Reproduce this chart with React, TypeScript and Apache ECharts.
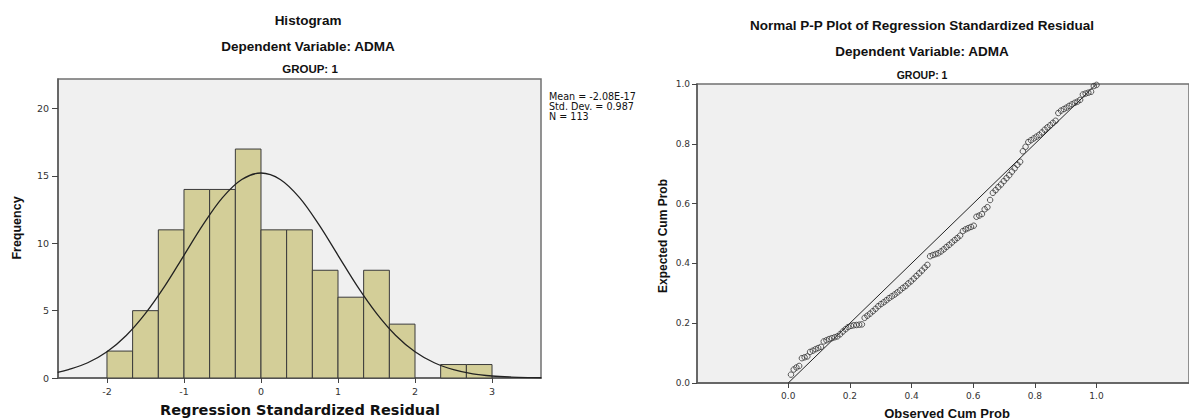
import React, { useEffect, useRef } from "react";
import * as echarts from "echarts";

// ---------- Histogram data ----------
const binEdges = [-2, -1.667, -1.333, -1, -0.667, -0.333, 0, 0.333, 0.667, 1, 1.333, 1.667, 2, 2.333, 2.667, 3];
const binCounts = [2, 5, 11, 14, 14, 17, 11, 11, 8, 6, 8, 4, 0, 1, 1];
const histXTicks = [-2, -1, 0, 1, 2, 3];
// normal curve
const curveX = [-2.64, -2.5, -2.25, -2, -1.75, -1.5, -1.25, -1, -0.75, -0.5, -0.25, 0, 0.25, 0.5, 0.75, 1, 1.25, 1.5, 1.75, 2, 2.25, 2.5, 2.75, 3, 3.25, 3.5, 3.64];
const curveY = [0.42, 0.62, 1.13, 1.95, 3.16, 4.8, 6.82, 9.11, 11.4, 13.39, 14.74, 15.22, 14.74, 13.39, 11.4, 9.11, 6.82, 4.8, 3.16, 1.95, 1.13, 0.62, 0.31, 0.15, 0.07, 0.03, 0.02];
const statLines = ["Mean = -2.08E-17", "Std. Dev. = 0.987", "N = 113"];

// ---------- P-P plot data ----------
const ppTicks = [0, 0.2, 0.4, 0.6, 0.8, 1.0];
const ppN = 113;
const ppExpected = [
  0.028, 0.045, 0.052, 0.057, 0.083, 0.086, 0.089, 0.104, 0.108, 0.113,
  0.117, 0.121, 0.139, 0.143, 0.147, 0.15, 0.153, 0.156, 0.163, 0.172,
  0.18, 0.187, 0.191, 0.193, 0.194, 0.195, 0.196, 0.218, 0.225, 0.232,
  0.24, 0.248, 0.257, 0.264, 0.27, 0.277, 0.284, 0.29, 0.296, 0.303,
  0.31, 0.318, 0.324, 0.333, 0.34, 0.349, 0.358, 0.367, 0.376, 0.386,
  0.395, 0.424, 0.428, 0.431, 0.434, 0.44, 0.447, 0.455, 0.462, 0.47,
  0.478, 0.485, 0.493, 0.508, 0.514, 0.518, 0.522, 0.526, 0.556, 0.56,
  0.565, 0.581, 0.588, 0.612, 0.636, 0.645, 0.655, 0.664, 0.675, 0.685,
  0.695, 0.707, 0.718, 0.73, 0.74, 0.775, 0.79, 0.806, 0.812, 0.818,
  0.824, 0.83, 0.838, 0.847, 0.855, 0.862, 0.87, 0.877, 0.903, 0.911,
  0.916, 0.921, 0.927, 0.932, 0.937, 0.941, 0.947, 0.965, 0.968, 0.971,
  0.974, 0.993, 0.997,
];
const refLine = [[0, 0], [1, 1]];

const SANS = "DejaVu Sans";
const ARIAL = "Liberation Sans";

function txt(text: string, x: number, y: number, size: number, family: string, weight: string, align = "center", rotation = 0, extra: any = {}) {
  return {
    type: "text",
    x,
    y,
    rotation,
    silent: true,
    style: {
      text,
      fontSize: size,
      fontFamily: family,
      fontWeight: weight,
      fill: "#111",
      align,
      verticalAlign: "middle",
      textAlign: align,
      textVerticalAlign: "middle",
      ...extra,
    },
  };
}

function buildOption() {
  const histRows = binCounts.map((c, i) => [binEdges[i], binEdges[i + 1], c]);
  const curveData = curveX.map((x, i) => [x, curveY[i]]);
  const ppData = ppExpected.map((y, i) => [(i + 1) / ppN, y]);
  const axisLine = { show: true, onZero: false, lineStyle: { color: "#5a5a5a", width: 1.5 } };
  const tickStyle = { color: "#444", width: 1 };

  return {
    animation: false,
    backgroundColor: "#ffffff",
    textStyle: { fontFamily: SANS },
    grid: [
      { left: 58, top: 79, width: 483, height: 299, show: true, backgroundColor: "#f0f0f0", borderColor: "#707070", borderWidth: 1.5 },
      { left: 697, top: 84, width: 501, height: 299, show: true, backgroundColor: "#f0f0f0", borderColor: "#707070", borderWidth: 1.5 },
    ],
    xAxis: [
      {
        gridIndex: 0, type: "value", min: -2.636, max: 3.636,
        axisLine, splitLine: { show: false },
        axisTick: { show: true, length: 5, customValues: histXTicks, lineStyle: tickStyle },
        axisLabel: { customValues: histXTicks, margin: 8, fontSize: 9.5, color: "#333", fontFamily: SANS },
      },
      {
        gridIndex: 1, type: "value", min: -0.296, max: 1.3,
        axisLine, splitLine: { show: false },
        axisTick: { show: true, length: 5, customValues: ppTicks, lineStyle: tickStyle },
        axisLabel: { customValues: ppTicks, margin: 8, fontSize: 9, color: "#333", fontFamily: SANS, formatter: (v: number) => v.toFixed(1) },
      },
    ],
    yAxis: [
      {
        gridIndex: 0, type: "value", min: 0, max: 22.2, interval: 5,
        axisLine, splitLine: { show: false },
        axisTick: { show: true, length: 6, lineStyle: tickStyle },
        axisLabel: { margin: 9, fontSize: 9.5, color: "#333", fontFamily: SANS, showMaxLabel: false },
      },
      {
        gridIndex: 1, type: "value", min: 0, max: 1, interval: 0.2,
        axisLine, splitLine: { show: false },
        axisTick: { show: true, length: 5, lineStyle: tickStyle },
        axisLabel: { margin: 7, fontSize: 9, color: "#333", fontFamily: SANS, formatter: (v: number) => v.toFixed(1) },
      },
    ],
    series: [
      {
        type: "custom",
        xAxisIndex: 0,
        yAxisIndex: 0,
        z: 2,
        encode: { x: [0, 1], y: 2 },
        data: histRows,
        renderItem: (params: any, api: any) => {
          const lo = api.value(0);
          const hi = api.value(1);
          const c = api.value(2);
          if (!c) return null;
          const p0 = api.coord([lo, c]);
          const p1 = api.coord([hi, 0]);
          return {
            type: "rect",
            shape: { x: p0[0], y: p0[1], width: p1[0] - p0[0], height: p1[1] - p0[1] },
            style: { fill: "#d3ce98", stroke: "#3a3a3a", lineWidth: 1 },
          };
        },
      },
      {
        type: "line",
        xAxisIndex: 0,
        yAxisIndex: 0,
        z: 3,
        data: curveData,
        smooth: 0.35,
        symbol: "none",
        lineStyle: { color: "#222", width: 1.3 },
      },
      {
        type: "line",
        xAxisIndex: 1,
        yAxisIndex: 1,
        z: 2,
        data: refLine,
        symbol: "none",
        lineStyle: { color: "#222", width: 1 },
      },
      {
        type: "scatter",
        xAxisIndex: 1,
        yAxisIndex: 1,
        z: 3,
        data: ppData,
        symbol: "circle",
        symbolSize: 5.5,
        itemStyle: { color: "rgba(0,0,0,0)", borderColor: "#333", borderWidth: 1 },
      },
    ],
    graphic: [
      txt("Histogram", 308, 20, 13.5, ARIAL, "bold"),
      txt("Dependent Variable: ADMA", 308, 46, 13.5, ARIAL, "bold"),
      txt("GROUP: 1", 310, 69, 11.5, ARIAL, "bold"),
      txt("Frequency", 17, 228, 12.5, ARIAL, "bold", "center", Math.PI / 2),
      txt("Regression Standardized Residual", 300, 410, 14.5, SANS, "bold"),
      txt(statLines.join("\n"), 549, 92, 9.6, SANS, "normal", "left", 0, { verticalAlign: "top", textVerticalAlign: "top", lineHeight: 9.6 }),
      txt("Normal P-P Plot of Regression Standardized Residual", 922, 25, 13.5, ARIAL, "bold"),
      txt("Dependent Variable: ADMA", 922, 51, 13.5, ARIAL, "bold"),
      txt("GROUP: 1", 922, 75, 10.5, ARIAL, "bold"),
      txt("Expected Cum Prob", 663, 236, 12, ARIAL, "bold", "center", Math.PI / 2),
      txt("Observed Cum Prob", 947, 413, 13, ARIAL, "bold"),
    ],
  };
}

export default function App() {
  const ref = useRef<HTMLDivElement>(null);
  useEffect(() => {
    document.body.style.margin = "0";
    if (!ref.current) return;
    const chart = echarts.init(ref.current, null, { renderer: "svg" });
    chart.setOption(buildOption() as any);
    return () => chart.dispose();
  }, []);
  return <div ref={ref} style={{ width: 1189, height: 419 }} />;
}
